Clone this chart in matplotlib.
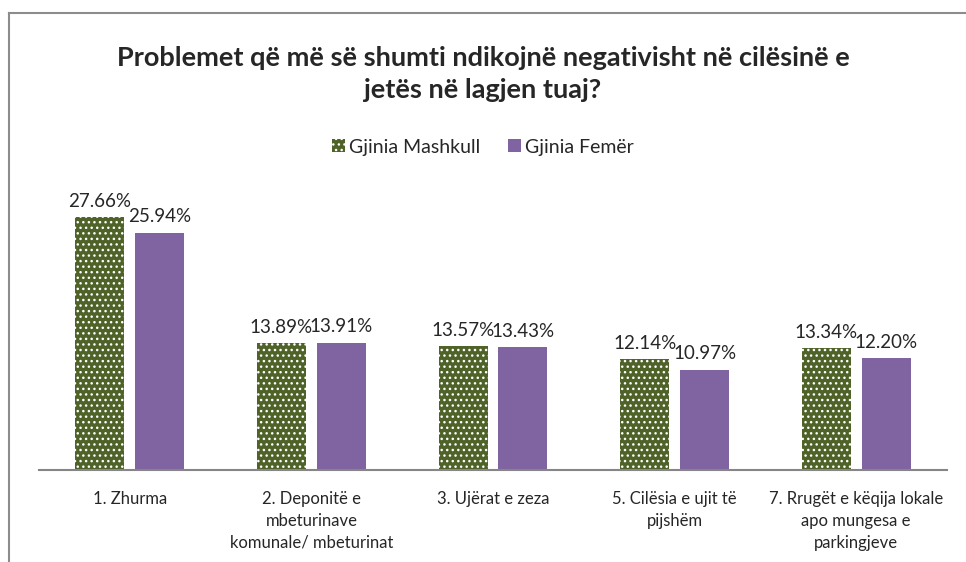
import matplotlib
matplotlib.use('Agg')
import matplotlib.pyplot as plt
from matplotlib.lines import Line2D
import numpy as np

plt.rcParams['font.family'] = ['Lato', 'DejaVu Sans']
plt.rcParams['hatch.linewidth'] = 1.0

categories = ['1. Zhurma',
              '2. Deponitë e\nmbeturinave\nkomunale/ mbeturinat',
              '3. Ujërat e zeza',
              '5. Cilësia e ujit të\npijshëm',
              '7. Rrugët e këqija lokale\napo mungesa e\nparkingjeve']
male = [27.66, 13.89, 13.57, 12.14, 13.34]
female = [25.94, 13.91, 13.43, 10.97, 12.20]
series_names = ['Gjinia Mashkull', 'Gjinia Femër']

green = '#4F6228'
purple = '#8064A2'
text_col = '#262626'

fig = plt.figure(figsize=(9.66, 5.62), dpi=100)
ax = fig.add_axes([39 / 966, 1 - 470 / 562, 908 / 966, 274.5 / 562])

x = np.arange(len(categories))
w = 0.27
off = 0.165
b1 = ax.bar(x - off, male, w, color=green, edgecolor='white', linewidth=0,
            hatch='...', label=series_names[0])
b2 = ax.bar(x + off, female, w, color=purple, linewidth=0, label=series_names[1])

for bars, vals in ((b1, male), (b2, female)):
    for b, v in zip(bars, vals):
        ax.text(b.get_x() + b.get_width() / 2, v + 0.8, '%.2f%%' % v,
                ha='center', va='bottom', fontsize=13.5, color=text_col)

ax.set_xlim(-0.5, len(categories) - 0.5)
ax.set_ylim(0, 30)
ax.set_yticks([])
ax.set_xticks(x)
ax.set_xticklabels(categories, fontsize=12, color=text_col, linespacing=1.45)
ax.tick_params(axis='x', length=0, pad=15)
for s in ['left', 'right', 'top']:
    ax.spines[s].set_visible(False)
ax.spines['bottom'].set_color('#868686')
ax.spines['bottom'].set_linewidth(1.5)

fig.text(0.5, 1 - 74 / 562,
         'Problemet që më së shumti ndikojnë negativisht në cilësinë e\njetës në lagjen tuaj?',
         ha='center', va='center', fontsize=19.5, fontweight='bold',
         color=text_col, linespacing=1.4)

fig.legend(loc='center', bbox_to_anchor=(0.5, 1 - 147 / 562), ncol=2,
           frameon=False, fontsize=14, handlelength=0.67, handleheight=0.67,
           handletextpad=0.2, columnspacing=1.45, labelcolor=text_col)

# chart border
fig.add_artist(Line2D([9 / 966, 9 / 966], [0, 1 - 13 / 562], color='#8c8c8c', lw=1.5))
fig.add_artist(Line2D([9 / 966, 1], [1 - 13 / 562, 1 - 13 / 562], color='#8c8c8c', lw=1.5))

fig.savefig('out.png', dpi=100)
